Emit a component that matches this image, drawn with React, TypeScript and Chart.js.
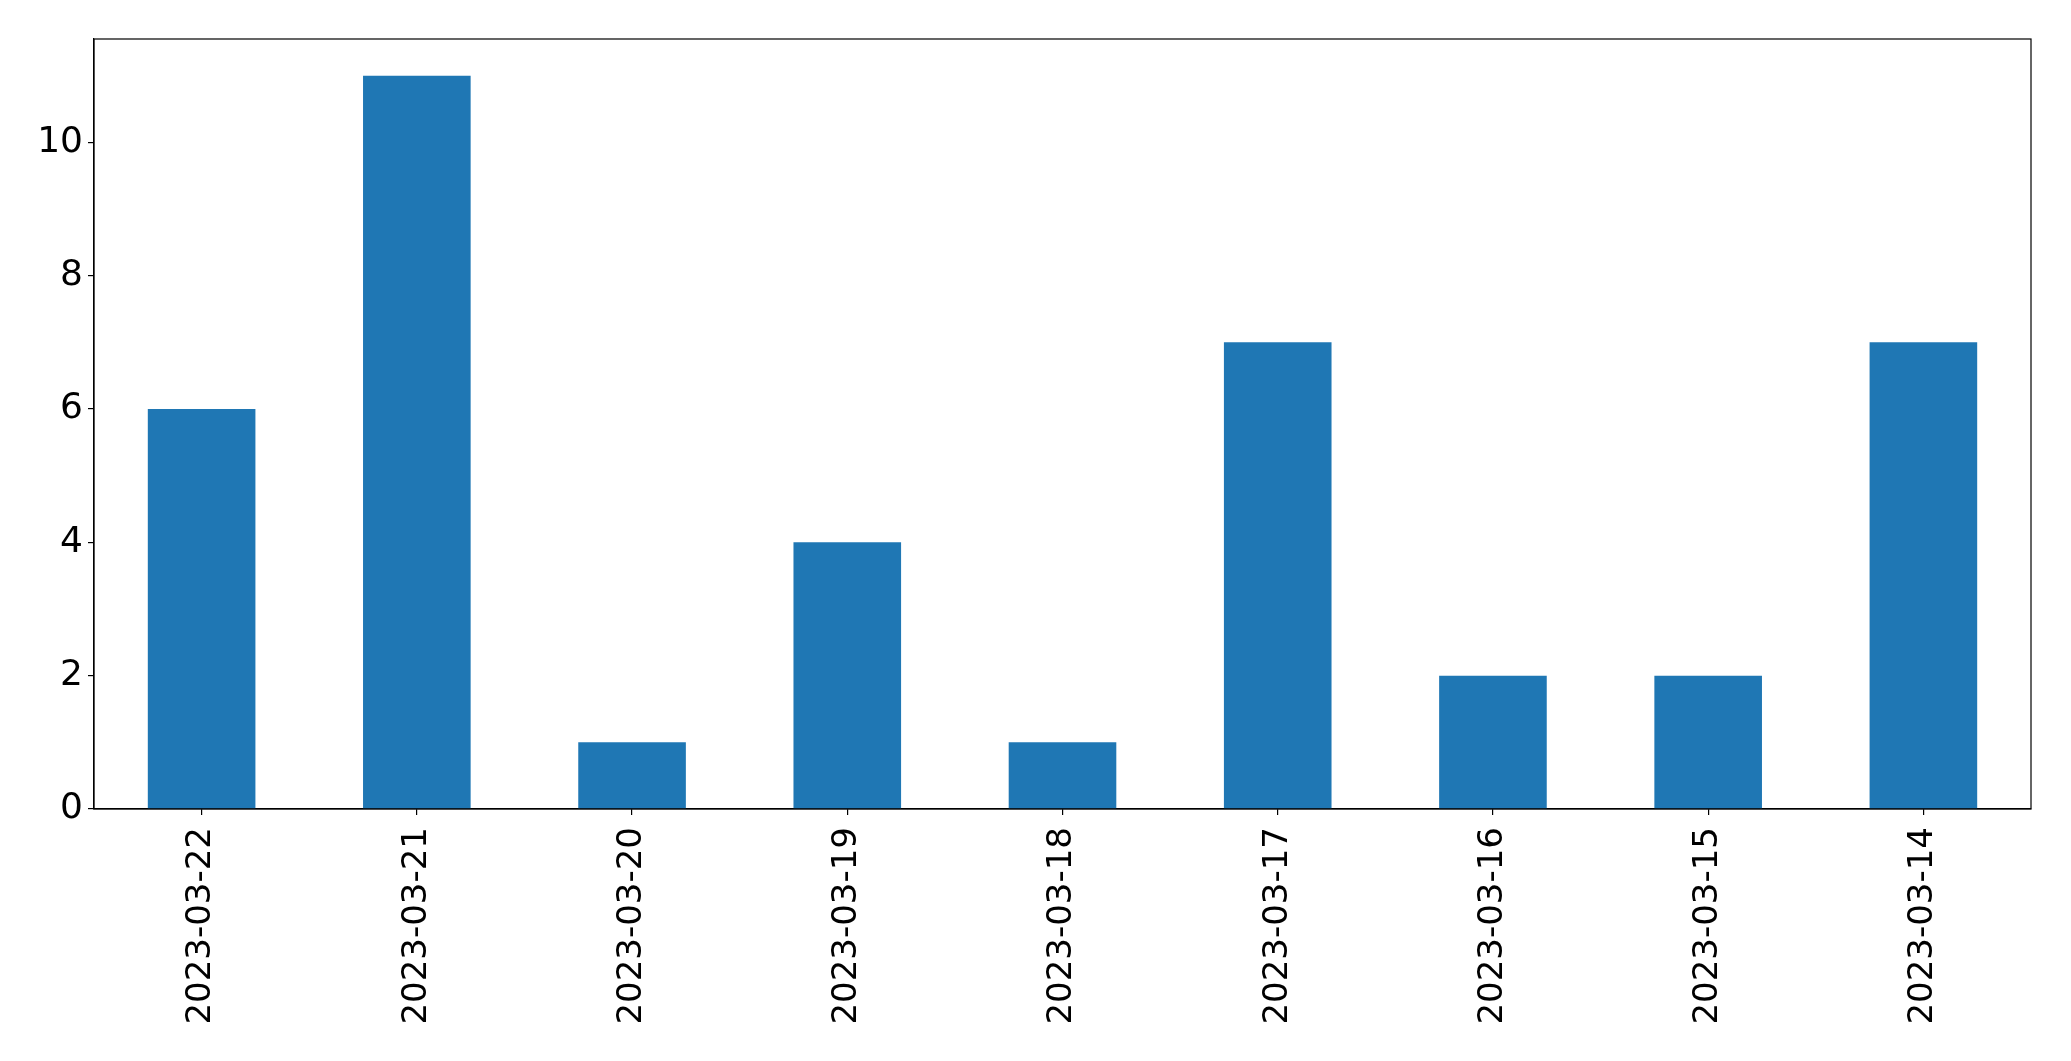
import React, { useEffect, useRef } from "react";
import { Chart, registerables } from "chart.js";

Chart.register(...registerables);

const categories = [
  "2023-03-22",
  "2023-03-21",
  "2023-03-20",
  "2023-03-19",
  "2023-03-18",
  "2023-03-17",
  "2023-03-16",
  "2023-03-15",
  "2023-03-14",
];
const counts = [6, 11, 1, 4, 1, 7, 2, 2, 7];
const yTicks = [0, 2, 4, 6, 8, 10];

const framePlugin = {
  id: "frame",
  afterDraw(chart: any) {
    const { ctx, chartArea } = chart;
    ctx.save();
    ctx.strokeStyle = "#000";
    ctx.lineWidth = 1.2;
    ctx.strokeRect(chartArea.left, chartArea.top, chartArea.right - chartArea.left, chartArea.bottom - chartArea.top);
    ctx.restore();
  },
};

export default function App() {
  const ref = useRef<HTMLCanvasElement>(null);
  useEffect(() => {
    document.body.style.margin = "0";
    const chart = new Chart(ref.current!, {
      type: "bar",
      data: {
        labels: categories,
        datasets: [
          {
            data: counts,
            backgroundColor: "#1f77b4",
            categoryPercentage: 1,
            barPercentage: 0.5,
          },
        ],
      },
      options: {
        animation: false,
        responsive: false,
        layout: { padding: { left: 0, top: 39, right: 40, bottom: 0 } },
        plugins: { legend: { display: false }, tooltip: { enabled: false } },
        scales: {
          x: {
            offset: true,
            grid: { offset: false, drawOnChartArea: false, drawTicks: true, tickLength: 6, color: "#000", lineWidth: 1.2 },
            border: { display: true, color: "#000", width: 1.2 },
            ticks: { font: { family: "DejaVu Sans", size: 34 }, color: "#000", minRotation: 90, maxRotation: 90, autoSkip: false, padding: 12 },
            afterFit: (s: any) => {
              s.height = 1061 - 809;
            },
          },
          y: {
            min: 0,
            max: 11.55,
            grid: { drawOnChartArea: false, drawTicks: true, tickLength: 6, color: "#000", lineWidth: 1.2 },
            border: { display: true, color: "#000", width: 1.2 },
            ticks: { font: { family: "DejaVu Sans", size: 36 }, color: "#000", padding: 5 },
            afterBuildTicks: (s: any) => {
              s.ticks = yTicks.map((v) => ({ value: v }));
            },
            afterFit: (s: any) => {
              s.width = 94;
            },
          },
        },
      },
      plugins: [framePlugin],
    });
    return () => chart.destroy();
  }, []);
  return <canvas ref={ref} width={2071} height={1061} style={{ display: "block" }} />;
}
